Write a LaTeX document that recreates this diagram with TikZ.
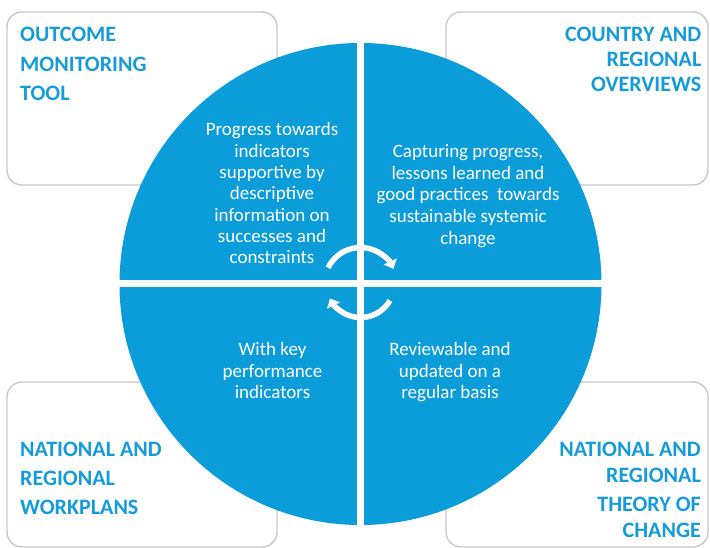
\documentclass[tikz,border=0pt]{standalone}
\usepackage{fontspec}
\setmainfont{Carlito}
\usetikzlibrary{arrows.meta,calc}
\definecolor{cblue}{RGB}{11,156,218}
\definecolor{hblue}{RGB}{22,155,218}
\definecolor{boxgray}{RGB}{200,200,200}
\begin{document}
\begin{tikzpicture}[x=1pt,y=-1pt,
  outerbox/.style={draw=boxgray, line width=1.4pt, rounded corners=15pt, fill=white, inner sep=0pt},
  headL/.style={text=hblue, font=\bfseries\fontsize{22}{29.5}\selectfont, align=left, inner sep=0pt, anchor=north west},
  headR/.style={text=hblue, font=\bfseries\fontsize{22}{25}\selectfont, align=right, inner sep=0pt, anchor=north east},
  quadtext/.style={text=white, font=\fontsize{19}{21.3}\selectfont, align=center, inner sep=0pt, anchor=north},
  cyc/.style={draw=white, line width=5.5pt, -{Triangle[width=14pt,length=8pt]}}]
\useasboundingbox (0,0) rectangle (710,548);
\fill[white] (0,0) rectangle (710,548);
% corner boxes
\node[outerbox, minimum width=270pt, minimum height=173pt] (boxTL) at (142,98.5) {};
\node[outerbox, minimum width=262pt, minimum height=173pt] (boxTR) at (577,98.5) {};
\node[outerbox, minimum width=270pt, minimum height=165pt] (boxBL) at (142,464.5) {};
\node[outerbox, minimum width=262pt, minimum height=165pt] (boxBR) at (577,464.5) {};
% central disc split in quadrants
\node[circle, fill=cblue, minimum size=482pt, inner sep=0pt] (disc) at (360.5,284) {};
\draw[white, line width=7pt] (disc.north) -- (disc.south);
\draw[white, line width=7pt] (disc.west) -- (disc.east);
% headings
\node[headL] (hTL) at (20,27) {OUTCOME\\MONITORING\\TOOL};
\node[headR] (hTR) at (701.5,27) {COUNTRY AND\\REGIONAL\\OVERVIEWS};
\node[headL, font=\bfseries\fontsize{22}{29}\selectfont] (hBL) at (20,441.5) {NATIONAL AND\\REGIONAL\\WORKPLANS};
\node[headR, font=\bfseries\fontsize{22}{26}\selectfont] (hBR) at (701,441.5) {NATIONAL AND\\REGIONAL\\[3.5pt]THEORY OF\\CHANGE};
% quadrant texts
\node[quadtext] (tTL) at (272,122.5) {Progress towards\\indicators\\supportive by\\descriptive\\information on\\successes and\\constraints};
\node[quadtext, font=\fontsize{19}{21.8}\selectfont] (tTR) at (468,144) {Capturing progress,\\lessons learned and\\good practices~ towards\\sustainable systemic\\change};
\node[quadtext] (tBL) at (272.5,342.5) {With key\\performance\\indicators};
\node[quadtext] (tBR) at (450,342.5) {Reviewable and\\updated on a\\regular basis};
% cycle arrows
\coordinate (cyc) at (360.5,283.5);
\draw[cyc] ($(cyc)+(206:36)$) arc[start angle=206,end angle=336,radius=36];
\draw[cyc] ($(cyc)+(30:34)$) arc[start angle=30,end angle=154,radius=34];
\end{tikzpicture}
\end{document}
